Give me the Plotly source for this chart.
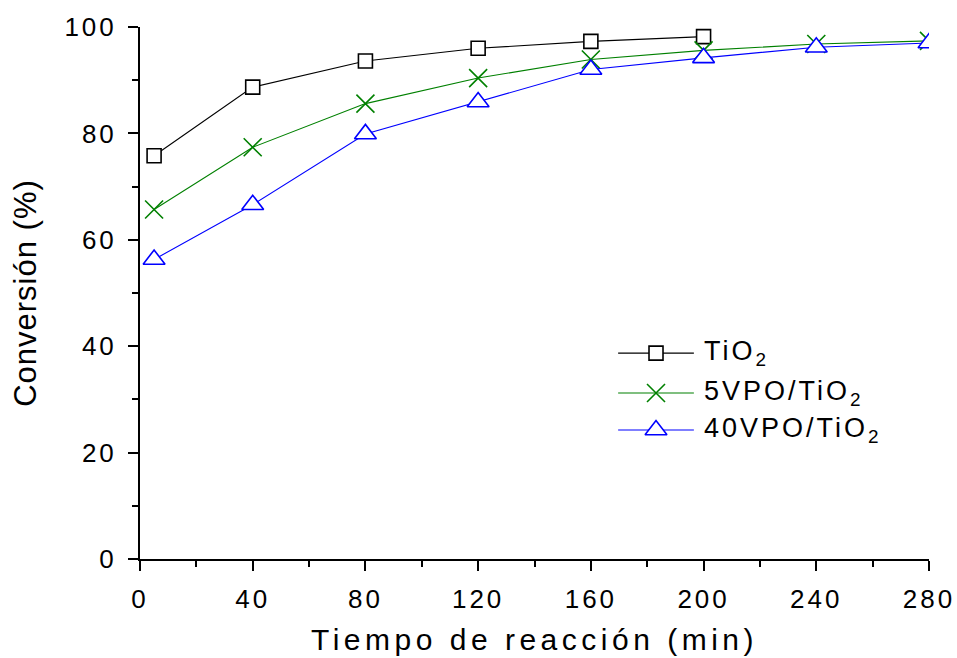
import plotly.graph_objects as go

# Reaction time (min) and conversion (%) for each catalyst
tiempo = [5, 40, 80, 120, 160, 200, 240, 280]
conv_tio2 = [75.8, 88.7, 93.6, 96.0, 97.3, 98.2]
conv_5vpo = [65.7, 77.4, 85.6, 90.4, 93.9, 95.6, 96.8, 97.4]
conv_40vpo = [56.3, 66.6, 79.9, 85.9, 92.0, 94.2, 96.2, 97.0]

series_names = ["TiO<sub>2</sub>", "5VPO/TiO<sub>2</sub>", "40VPO/TiO<sub>2</sub>"]
x_ticks = [0, 40, 80, 120, 160, 200, 240, 280]
y_ticks = [0, 20, 40, 60, 80, 100]

FONT = "Liberation Sans, Arial, sans-serif"

styles = [
    dict(color="#000000", symbol="square", size=14, fill="white"),
    dict(color="#008000", symbol="x-thin", size=18, fill="#008000"),
    dict(color="#0000FF", symbol="triangle-up", size=19, fill="white"),
]
data = [
    (tiempo[:len(conv_tio2)], conv_tio2),
    (tiempo, conv_5vpo),
    (tiempo, conv_40vpo),
]

fig = go.Figure()
for (xs, ys), st in zip(data, styles):
    fig.add_trace(go.Scatter(
        x=xs, y=ys, mode="lines+markers",
        line=dict(color=st["color"], width=1.1),
        marker=dict(symbol=st["symbol"], size=st["size"], color=st["fill"],
                    line=dict(color=st["color"], width=1.6)),
        showlegend=False, cliponaxis=True,
    ))

# Hand-drawn key on an invisible overlay axis (0..1 over the plot area)
key_rows = [0.387, 0.312, 0.2425]
key_x0, key_xm, key_x1, key_text = 0.606, 0.654, 0.702, 0.712
for row, st, name in zip(key_rows, styles, series_names):
    fig.add_trace(go.Scatter(
        x=[key_x0, key_x1], y=[row, row], mode="lines",
        line=dict(color=st["color"], width=1.1),
        xaxis="x2", yaxis="y2", showlegend=False, hoverinfo="skip",
    ))
    fig.add_trace(go.Scatter(
        x=[key_xm], y=[row], mode="markers",
        marker=dict(symbol=st["symbol"], size=st["size"], color=st["fill"],
                    line=dict(color=st["color"], width=1.6)),
        xaxis="x2", yaxis="y2", showlegend=False, hoverinfo="skip",
    ))
    fig.add_annotation(
        x=key_text, y=row, xref="x2", yref="y2", text=name, showarrow=False,
        xanchor="left", yanchor="middle", align="left",
        font=dict(family=FONT, size=27, color="#000000"),
    )

axis_common = dict(
    showline=True, linecolor="#000000", linewidth=2,
    ticks="outside", ticklen=10, tickwidth=2, tickcolor="#000000",
    showgrid=False, zeroline=False, mirror=False, automargin=False,
    tickfont=dict(family=FONT, size=26, color="#000000"),
)

fig.update_layout(
    width=957, height=658,
    margin=dict(l=140, r=28, t=27, b=99),
    paper_bgcolor="white", plot_bgcolor="white",
    font=dict(family=FONT, color="#000000"),
    xaxis=dict(
        range=[0, 280], tickmode="array", tickvals=x_ticks,
        ticktext=[str(v) for v in x_ticks],
        minor=dict(dtick=20, tick0=0, ticks="outside", ticklen=6, tickwidth=2,
                   tickcolor="#000000", showgrid=False),
        title=dict(text="Tiempo de reacción (min)", standoff=16,
                   font=dict(family=FONT, size=30, color="#000000")),
        ticklabelstandoff=6,
        **axis_common,
    ),
    yaxis=dict(
        range=[0, 100], tickmode="array", tickvals=y_ticks,
        ticktext=[str(v) for v in y_ticks],
        minor=dict(dtick=10, tick0=0, ticks="outside", ticklen=6, tickwidth=2,
                   tickcolor="#000000", showgrid=False),
        title=dict(text="Conversión (%)", standoff=28,
                   font=dict(family=FONT, size=31, color="#000000")),
        ticklabelstandoff=6,
        **axis_common,
    ),
    xaxis2=dict(range=[0, 1], overlaying="x", visible=False, fixedrange=True),
    yaxis2=dict(range=[0, 1], overlaying="y", visible=False, fixedrange=True),
)

# Wide letter spacing on the text labels
spacing_js = """
var gd = document.getElementById('{plot_id}');
function spaceText() {
  gd.querySelectorAll('.xtick text, .ytick text').forEach(function(t){ t.style.letterSpacing = '3px'; });
  gd.querySelectorAll('.g-xtitle text').forEach(function(t){ t.style.letterSpacing = '4.5px'; });
  gd.querySelectorAll('.g-ytitle text').forEach(function(t){ t.style.letterSpacing = '1px'; });
  gd.querySelectorAll('.annotation-text').forEach(function(t){ t.style.letterSpacing = '3px'; });
}
spaceText();
gd.on('plotly_afterplot', spaceText);
"""

fig.write_html("out.html", post_script=spacing_js)
